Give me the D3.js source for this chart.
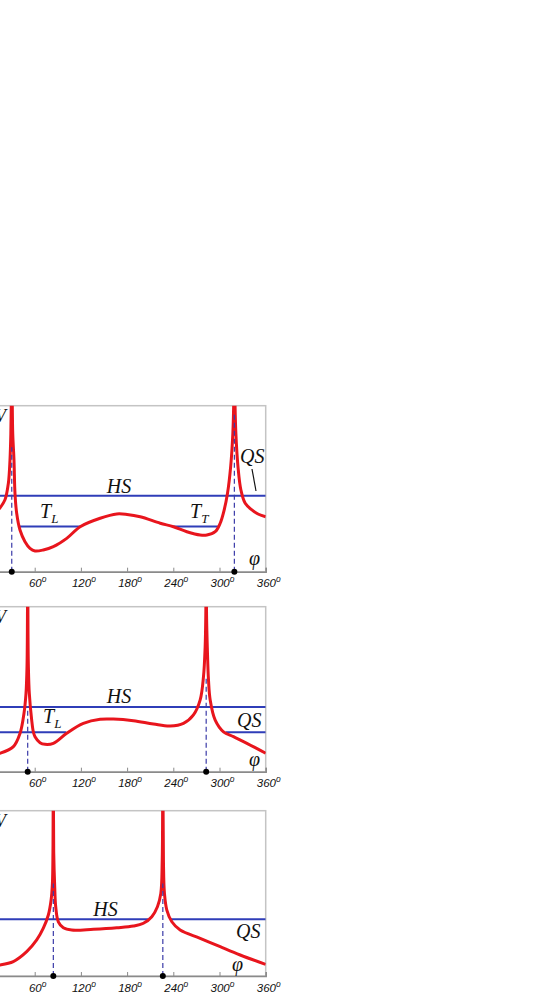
<!DOCTYPE html>
<html><head><meta charset="utf-8">
<script src="https://cdn.jsdelivr.net/npm/d3@7"></script>
<style>body{margin:0;background:#fff}svg{display:block}</style>
</head><body>
<svg id="c" width="545" height="1006"></svg>
<script>
// ---- data ----
const xTicks = [0, 60, 120, 180, 240, 300, 360];
const xTickLabels = ["0", "60", "120", "180", "240", "300", "360"];

const panel1Curve = [[0,3.31],[8,3.5],[14.9,3.84],[21.4,4.33],[25.8,5.33],[27.9,6.73],[29.0,8.3],[29.7,10.5],[30.2,14],[30.8,10.5],[31.5,8.3],[33.1,6.73],[34.4,4.72],[36.6,3.52],[40.9,2.51],[47.4,1.81],[53.9,1.41],[60.4,1.25],[71.2,1.31],[84.2,1.51],[101.6,2.01],[119,2.71],[145,3.22],[166.6,3.48],[180,3.45],[197,3.31],[223,2.92],[240.2,2.71],[257.6,2.41],[274.9,2.21],[283.6,2.21],[294.4,2.41],[300.9,2.92],[306.1,3.72],[310.4,4.72],[314.5,6.33],[317.3,8.3],[318.6,10.5],[319.3,14],[320.0,10.5],[321.3,8.3],[324.0,6.33],[327.8,4.92],[333.4,4.12],[342.1,3.72],[350.7,3.46],[360,3.31]];
const panel1Peaks = [30.2, 319.3];
const panel1DashTop = [7.5, 9.6];
const panel1HS = 4.58;
const panel1HSSpans = [[0, 360]];
const panel1Lower = 2.72;
const panel1LowerSpans = [[39, 120], [240, 298]];

const panel2Curve = [[0,1.12],[7,1.05],[14.9,1.12],[32.3,1.52],[41,2.33],[46.1,3.54],[48.7,4.75],[50.0,6.36],[50.5,8.5],[50.9,14],[51.3,8.5],[51.8,6.36],[53.0,4.75],[56.1,3.13],[58.2,2.42],[60.4,2.12],[66.9,1.76],[73.4,1.66],[84.2,1.72],[101.6,2.33],[123.2,2.93],[145,3.18],[162.2,3.19],[188.2,3.09],[214.2,2.89],[235.9,2.77],[253.2,2.93],[266.2,3.44],[274.9,4.35],[279.2,5.76],[281.3,7.5],[282.2,9.5],[282.7,14],[283.2,9.5],[284.2,7.5],[285.7,5.56],[287.9,4.35],[294.4,3.13],[305.2,2.42],[318.2,2.12],[335.6,1.72],[360,1.12]];
const panel2Peaks = [50.9, 282.7];
const panel2DashTop = [3.8, 5.7];
const panel2HS = 3.92;
const panel2HSSpans = [[0, 360]];
const panel2Lower = 2.39;
const panel2LowerSpans = [[0, 101], [308, 360]];

const panel3Curve = [[0,0.70],[7,0.64],[14.9,0.67],[32.2,0.87],[49.6,1.47],[62.6,2.18],[71.2,2.89],[77.7,3.69],[81.3,4.6],[83.0,5.61],[83.7,7.5],[84.2,14],[84.7,7.5],[86,5.4],[87.3,4.19],[90.7,3.28],[97.2,2.92],[108.1,2.78],[136.2,2.83],[166.6,2.92],[188.2,3.02],[201.2,3.19],[212.1,3.59],[219.4,4.19],[223.8,5.0],[225.6,7],[226.4,14],[227.2,7],[228.5,5.0],[231.6,3.99],[238.1,3.28],[248.9,2.78],[274.9,2.28],[300.9,1.77],[326.9,1.27],[360,0.70]];
const panel3Peaks = [84.2, 226.4];
const panel3DashTop = [5.6, 5.6];
const panel3HS = 3.43;
const panel3HSSpans = [[0, 208], [237, 360]];

// ---- layout ----
const svg = d3.select("#c");
const xLeft = -11.5, xRight = 265.7;
const RED = "#e8151d", BLUE = "#2f3db8", DASH = "#3a3aa8";
const SERIF = "'Liberation Serif','Times New Roman',serif";
const SANS = "'Liberation Sans',Arial,sans-serif";

const panels = [
  {top: 405.7, bottom: 571.7, curve: panel1Curve, peaks: panel1Peaks, dashTop: panel1DashTop,
   levels: [{v: panel1HS, spans: panel1HSSpans}, {v: panel1Lower, spans: panel1LowerSpans}],
   texts: [
     {t: "HS", x: 119, y: 493, anchor: "middle"},
     {t: "T", sub: "L", x: 40, y: 518},
     {t: "T", sub: "T", x: 190, y: 518},
     {t: "QS", x: 240, y: 463}
   ], phi: {x: 249, y: 565}, leader: [252, 469, 256, 491]},
  {top: 606.7, bottom: 771.7, curve: panel2Curve, peaks: panel2Peaks, dashTop: panel2DashTop,
   levels: [{v: panel2HS, spans: panel2HSSpans}, {v: panel2Lower, spans: panel2LowerSpans}],
   texts: [
     {t: "HS", x: 119, y: 703, anchor: "middle"},
     {t: "T", sub: "L", x: 43, y: 723},
     {t: "QS", x: 237, y: 726.5}
   ], phi: {x: 249, y: 766}},
  {top: 810.7, bottom: 976, curve: panel3Curve, peaks: panel3Peaks, dashTop: panel3DashTop,
   levels: [{v: panel3HS, spans: panel3HSSpans}],
   texts: [
     {t: "HS", x: 105.5, y: 916, anchor: "middle"},
     {t: "QS", x: 236, y: 937.5}
   ], phi: {x: 232, y: 971}}
];

const x = d3.scaleLinear().domain([0, 360]).range([xLeft, xRight]);

panels.forEach((p, i) => {
  const y = d3.scaleLinear().domain([0, 10]).range([p.bottom, p.top]);
  const g = svg.append("g");
  const clipId = "clip" + i;
  svg.append("clipPath").attr("id", clipId).append("rect")
    .attr("x", xLeft).attr("y", p.top).attr("width", xRight - xLeft).attr("height", p.bottom - p.top);

  // frame
  g.append("rect").attr("x", xLeft).attr("y", p.top).attr("width", xRight - xLeft).attr("height", p.bottom - p.top)
    .attr("fill", "none").attr("stroke", "#c4c4c4").attr("stroke-width", 1.5);

  // x axis
  const axis = d3.axisBottom(x).tickValues(xTicks).tickSize(-4).tickFormat("");
  const ag = g.append("g").attr("transform", `translate(0,${p.bottom})`).call(axis);
  ag.select(".domain").attr("stroke", "#8a8a8a").attr("stroke-width", 1.5);
  ag.selectAll(".tick line").attr("stroke", "#8a8a8a").attr("stroke-width", 1);

  // tick labels (only those inside the visible window)
  xTicks.forEach((t, k) => {
    if (x(t) < 10) return;
    const tx = g.append("text").attr("x", x(t) + 3).attr("y", p.bottom + 15.5)
      .attr("text-anchor", "middle").attr("font-family", SANS).attr("font-style", "italic")
      .attr("font-size", 11.5).attr("fill", "#111");
    tx.append("tspan").text(xTickLabels[k]);
    tx.append("tspan").attr("dy", -5).attr("font-size", 8.5).text("o");
  });

  const cg = g.append("g").attr("clip-path", `url(#${clipId})`);
  // level lines
  p.levels.forEach(l => {
    l.spans.forEach(s => {
      cg.append("line").attr("x1", x(s[0])).attr("x2", x(s[1])).attr("y1", y(l.v)).attr("y2", y(l.v))
        .attr("stroke", BLUE).attr("stroke-width", 2);
    });
  });

  // curve
  const line = d3.line().x(d => x(d[0])).y(d => y(d[1])).curve(d3.curveCatmullRom.alpha(0.5));
  cg.append("path").datum(p.curve).attr("d", line).attr("fill", "none")
    .attr("stroke", RED).attr("stroke-width", 3).attr("stroke-linejoin", "round");

  // dashed lines and dots
  p.peaks.forEach((pk, k) => {
    cg.append("line").attr("x1", x(pk)).attr("x2", x(pk)).attr("y1", p.bottom).attr("y2", y(p.dashTop[k]))
      .attr("stroke", DASH).attr("stroke-width", 1.2).attr("stroke-dasharray", "5,3");
    g.append("circle").attr("cx", x(pk)).attr("cy", p.bottom).attr("r", 3).attr("fill", "#000");
  });

  // labels
  p.texts.forEach(d => {
    const t = g.append("text").attr("x", d.x).attr("y", d.y).attr("text-anchor", d.anchor || "start")
      .attr("font-family", SERIF).attr("font-style", "italic").attr("font-size", 20).attr("fill", "#111");
    t.append("tspan").text(d.t);
    if (d.sub) t.append("tspan").attr("dy", 5).attr("font-size", 13).text(d.sub);
  });
  g.append("text").attr("x", p.phi.x).attr("y", p.phi.y).attr("font-family", SERIF).attr("font-style", "italic")
    .attr("font-size", 20).attr("fill", "#111").text("φ");
  g.append("text").attr("x", 6).attr("y", p.top + 16.5).attr("text-anchor", "end").attr("font-family", SERIF)
    .attr("font-style", "italic").attr("font-size", 18).attr("fill", "#111").text("V");
  if (p.leader) {
    g.append("line").attr("x1", p.leader[0]).attr("y1", p.leader[1]).attr("x2", p.leader[2]).attr("y2", p.leader[3])
      .attr("stroke", "#111").attr("stroke-width", 1.2);
  }
});
</script>
</body></html>
